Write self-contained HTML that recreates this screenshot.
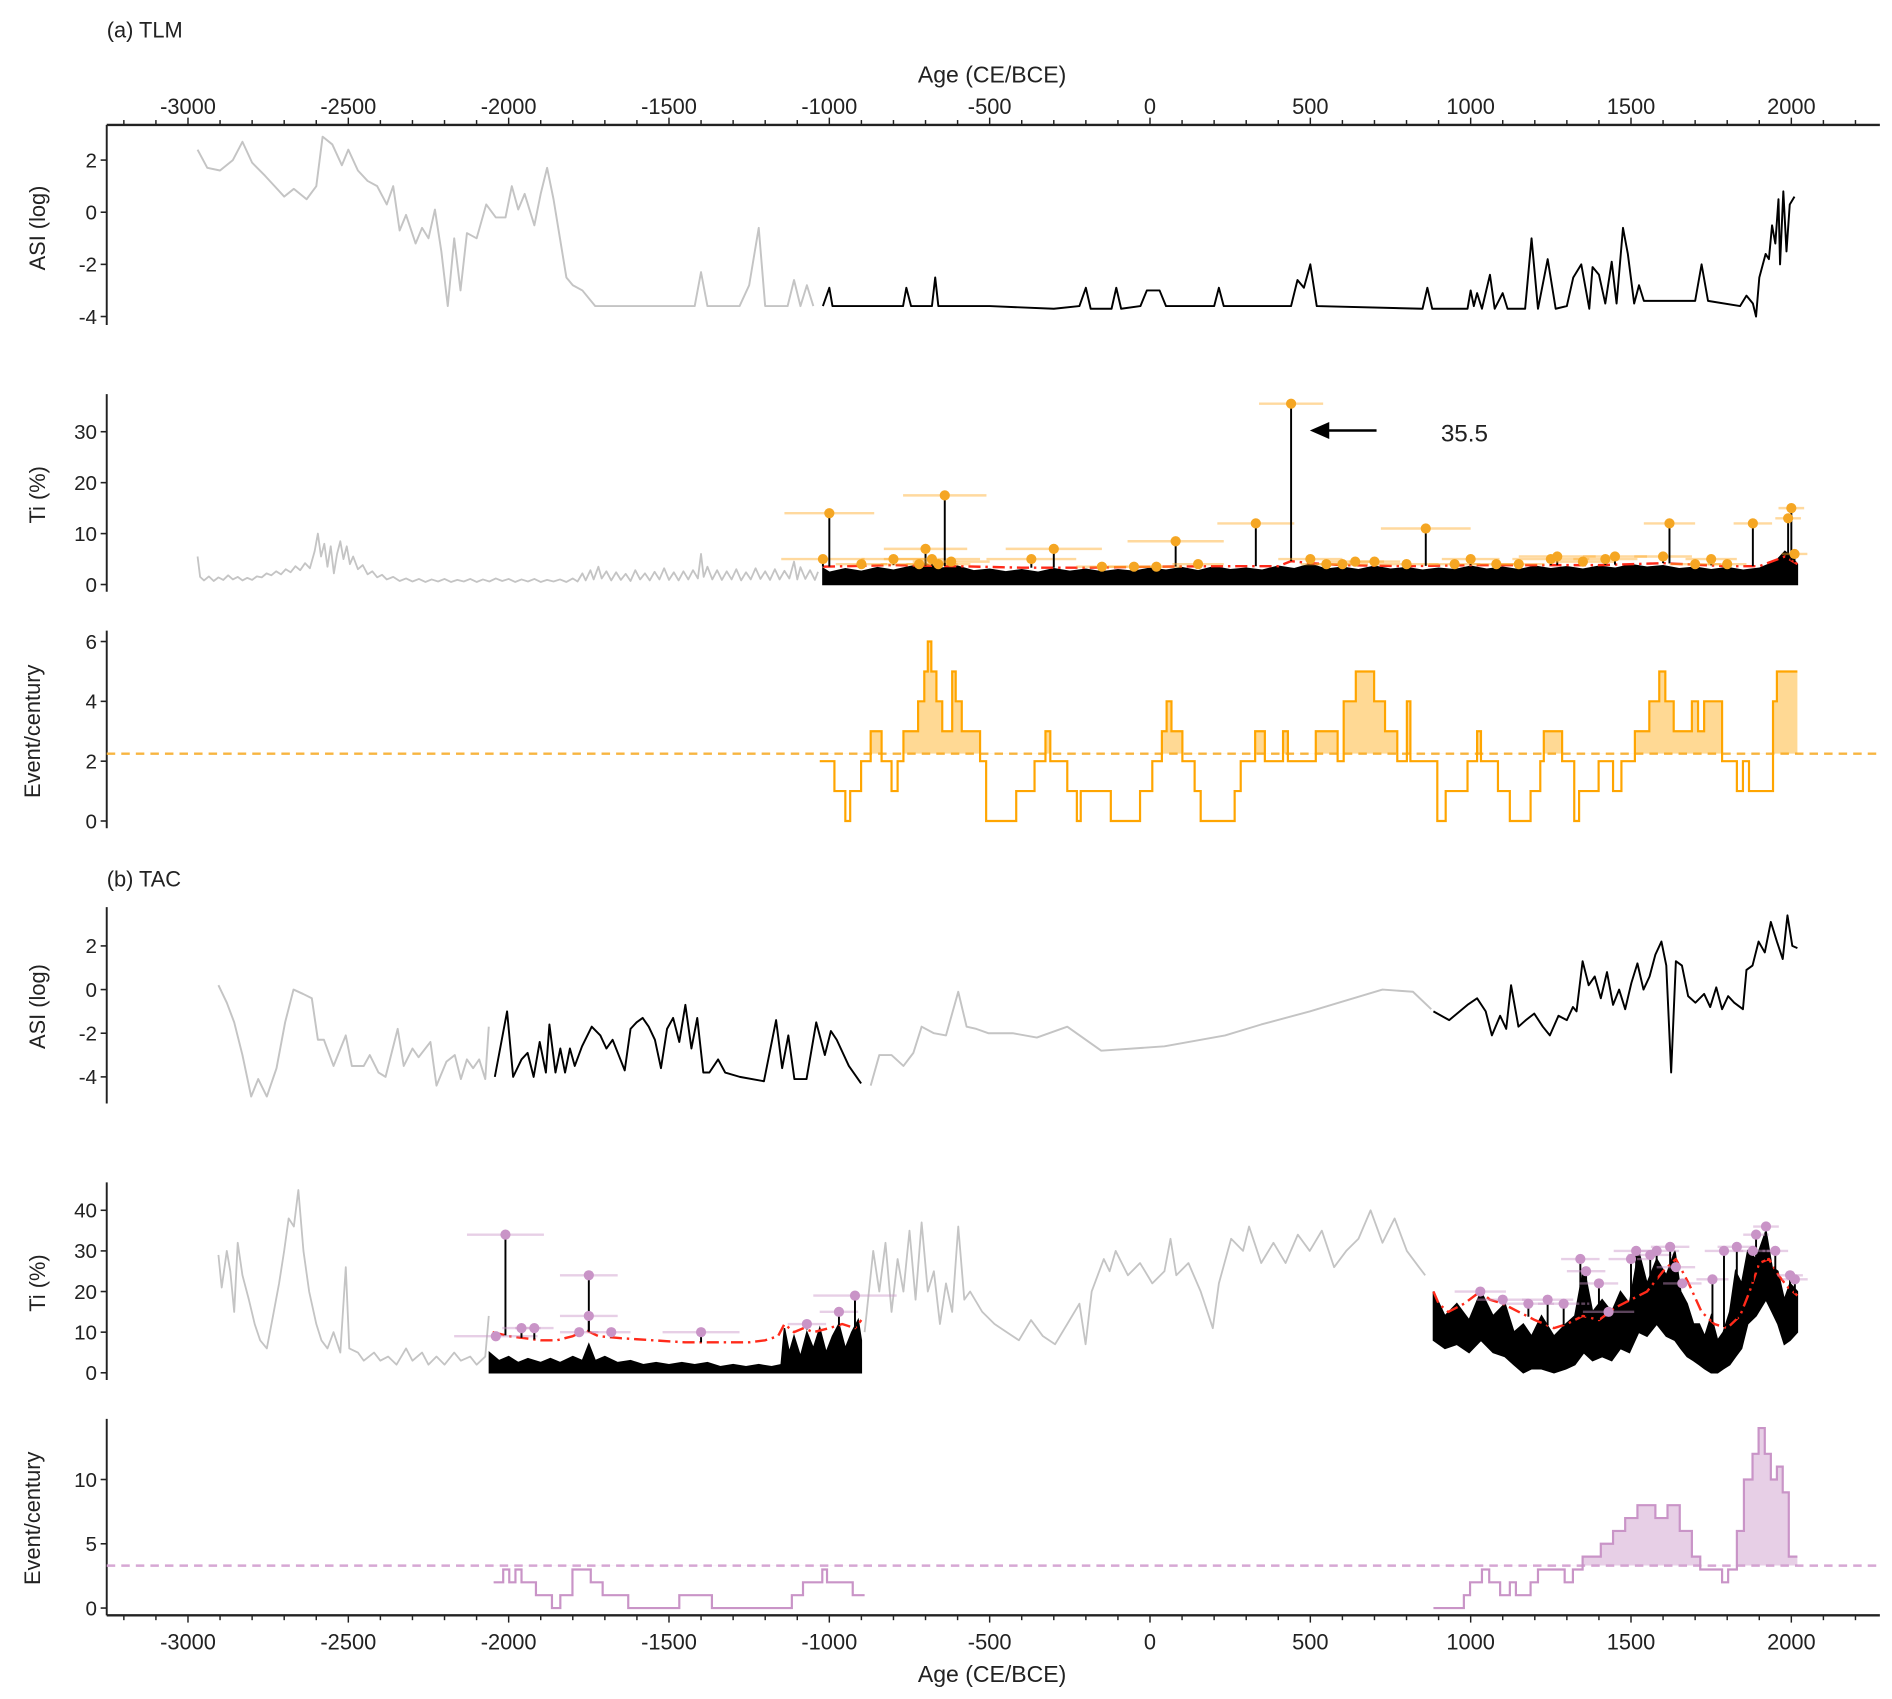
<!DOCTYPE html>
<html><head><meta charset="utf-8"><style>
html,body{margin:0;padding:0;background:#fff;}
svg{display:block;font-family:"Liberation Sans",Arial,sans-serif;}
</style></head>
<body>
<svg id="chart" width="1892" height="1699" viewBox="0 0 1560 1401" preserveAspectRatio="none" xmlns="http://www.w3.org/2000/svg">
<rect x="0" y="0" width="1560" height="1401" fill="#fff"/>
<text x="88" y="31" font-size="18" fill="#222">(a) TLM</text>
<text x="88" y="731" font-size="18" fill="#222">(b) TAC</text>
<text x="818" y="68" font-size="19" fill="#222" text-anchor="middle">Age (CE/BCE)</text>
<text x="818" y="1387" font-size="19" fill="#222" text-anchor="middle">Age (CE/BCE)</text>
<text transform="translate(37,188) rotate(-90)" font-size="18" fill="#222" text-anchor="middle">ASI (log)</text>
<text transform="translate(37,408) rotate(-90)" font-size="18" fill="#222" text-anchor="middle">Ti (%)</text>
<text transform="translate(33,603) rotate(-90)" font-size="18" fill="#222" text-anchor="middle">Event/century</text>
<text transform="translate(37,830) rotate(-90)" font-size="18" fill="#222" text-anchor="middle">ASI (log)</text>
<text transform="translate(37,1058) rotate(-90)" font-size="18" fill="#222" text-anchor="middle">Ti (%)</text>
<text transform="translate(33,1252) rotate(-90)" font-size="18" fill="#222" text-anchor="middle">Event/century</text>
<g id="plot"></g>
<text x="1188" y="364" font-size="20" fill="#222">35.5</text>
</svg>
<script>
// ---------- DATA ----------
const xTicks = [-3000,-2500,-2000,-1500,-1000,-500,0,500,1000,1500,2000];
const xTickLabels = ["-3000","-2500","-2000","-1500","-1000","-500","0","500","1000","1500","2000"];
const asiTicks = [2,0,-2,-4];
const tiTlmTicks = [0,10,20,30];
const evTlmTicks = [0,2,4,6];
const tiTacTicks = [0,10,20,30,40];
const evTacTicks = [0,5,10];

const asiTlmGray = [[-2970,2.4],[-2940,1.7],[-2900,1.6],[-2860,2.0],[-2830,2.7],[-2800,1.9],[-2760,1.4],[-2730,1.0],[-2700,0.6],[-2670,0.9],[-2630,0.5],[-2600,1.0],[-2580,2.9],[-2550,2.6],[-2520,1.8],[-2500,2.4],[-2470,1.6],[-2440,1.2],[-2410,1.0],[-2380,0.3],[-2360,1.0],[-2340,-0.7],[-2320,-0.1],[-2290,-1.2],[-2270,-0.6],[-2250,-1.0],[-2230,0.1],[-2210,-1.5],[-2190,-3.6],[-2170,-1.0],[-2150,-3.0],[-2130,-0.8],[-2100,-1.0],[-2070,0.3],[-2040,-0.2],[-2010,-0.2],[-1990,1.0],[-1970,0.1],[-1950,0.7],[-1920,-0.5],[-1900,0.7],[-1880,1.7],[-1860,0.5],[-1840,-1.0],[-1820,-2.5],[-1800,-2.8],[-1770,-3.0],[-1730,-3.6],[-1500,-3.6],[-1420,-3.6],[-1400,-2.3],[-1380,-3.6],[-1280,-3.6],[-1250,-2.8],[-1220,-0.6],[-1200,-3.6],[-1130,-3.6],[-1110,-2.6],[-1090,-3.6],[-1070,-2.8],[-1050,-3.6]];
const asiTlmBlack = [[-1020,-3.6],[-1000,-2.9],[-990,-3.6],[-900,-3.6],[-800,-3.6],[-770,-3.6],[-760,-2.9],[-745,-3.6],[-680,-3.6],[-670,-2.5],[-660,-3.6],[-500,-3.6],[-300,-3.7],[-220,-3.6],[-200,-2.9],[-185,-3.7],[-120,-3.7],[-105,-2.9],[-90,-3.7],[-30,-3.6],[-10,-3.0],[30,-3.0],[50,-3.6],[200,-3.6],[215,-2.9],[230,-3.6],[440,-3.6],[460,-2.6],[480,-2.9],[500,-2.0],[520,-3.6],[850,-3.7],[865,-2.9],[880,-3.7],[990,-3.7],[1000,-3.0],[1010,-3.6],[1020,-3.1],[1035,-3.7],[1060,-2.4],[1075,-3.7],[1100,-3.1],[1115,-3.7],[1170,-3.7],[1190,-1.0],[1210,-3.7],[1240,-1.8],[1265,-3.7],[1300,-3.6],[1320,-2.5],[1345,-2.0],[1370,-3.7],[1380,-2.1],[1400,-2.4],[1420,-3.5],[1440,-1.9],[1455,-3.5],[1475,-0.6],[1490,-1.6],[1510,-3.5],[1525,-2.8],[1540,-3.4],[1700,-3.4],[1720,-2.0],[1740,-3.4],[1840,-3.6],[1860,-3.2],[1880,-3.5],[1890,-4.0],[1900,-2.5],[1920,-1.6],[1930,-1.8],[1940,-0.5],[1950,-1.2],[1960,0.5],[1965,-2.0],[1975,0.8],[1985,-1.5],[1995,0.3],[2010,0.6]];

const tiTlmGray = [[-2970,5.5],[-2962,1.5],[-2950,0.8],[-2935,1.6],[-2920,0.7],[-2905,1.4],[-2890,0.9],[-2875,1.8],[-2860,1.0],[-2845,1.5],[-2830,0.8],[-2815,1.3],[-2800,0.9],[-2785,1.6],[-2770,1.4],[-2755,2.2],[-2740,1.8],[-2725,2.6],[-2710,2.0],[-2695,3.0],[-2680,2.4],[-2665,3.6],[-2650,2.8],[-2635,4.2],[-2620,3.2],[-2605,6.5],[-2595,10],[-2585,5.5],[-2575,8],[-2565,3.5],[-2555,7.5],[-2545,2.2],[-2535,6],[-2525,8.5],[-2515,5],[-2505,7.5],[-2495,4],[-2485,5.5],[-2470,3],[-2455,3.8],[-2440,2],[-2425,2.6],[-2410,1.4],[-2395,1.9],[-2380,1],[-2360,1.5],[-2340,0.7],[-2320,1.2],[-2300,0.6],[-2280,1.1],[-2260,0.5],[-2240,1.0],[-2220,0.6],[-2200,1.1],[-2180,0.5],[-2160,0.9],[-2140,0.6],[-2120,1.1],[-2100,0.5],[-2080,1.0],[-2060,0.6],[-2040,1.2],[-2020,0.7],[-2000,1.1],[-1980,0.5],[-1960,1.0],[-1940,0.6],[-1920,1.1],[-1900,0.5],[-1880,0.9],[-1860,0.6],[-1840,1.0],[-1820,0.5],[-1800,1.2],[-1785,0.6],[-1770,2.2],[-1760,0.8],[-1745,2.8],[-1735,1.0],[-1720,3.5],[-1710,1.2],[-1695,2.6],[-1680,0.8],[-1665,2.4],[-1650,0.9],[-1635,2.1],[-1620,0.7],[-1605,2.8],[-1590,1.0],[-1575,2.2],[-1560,0.8],[-1545,2.5],[-1530,1.0],[-1515,3.2],[-1500,0.9],[-1485,2.4],[-1470,0.8],[-1455,2.6],[-1440,1.0],[-1425,2.8],[-1410,1.2],[-1400,6],[-1392,1.5],[-1380,3.5],[-1365,1.0],[-1350,2.8],[-1335,0.9],[-1320,2.6],[-1305,1.0],[-1290,3.0],[-1275,0.8],[-1260,2.4],[-1245,1.0],[-1230,3.2],[-1215,1.1],[-1200,2.6],[-1185,0.9],[-1170,3.0],[-1155,1.0],[-1140,2.7],[-1125,1.2],[-1110,4.5],[-1100,1.0],[-1090,3.4],[-1075,1.1],[-1060,2.8],[-1045,0.9],[-1035,2.5]];
const tiTlmTop = [[-1020,3.2],[-1000,2.4],[-950,3.1],[-900,2.6],[-850,3.3],[-800,2.8],[-750,3.5],[-700,4.0],[-650,3.2],[-600,3.6],[-550,2.7],[-500,3.0],[-450,2.5],[-400,2.9],[-350,2.4],[-300,3.1],[-250,2.6],[-200,3.0],[-150,2.5],[-100,2.9],[-50,2.6],[0,3.2],[50,2.8],[100,3.3],[150,2.7],[200,3.5],[250,2.9],[300,3.2],[350,2.8],[400,3.6],[450,3.1],[500,4.0],[550,3.0],[600,3.4],[650,2.9],[700,3.6],[750,3.0],[800,3.3],[850,2.8],[900,3.2],[950,2.9],[1000,3.6],[1050,3.0],[1100,3.4],[1150,2.9],[1200,3.6],[1250,3.1],[1300,3.5],[1350,3.0],[1400,3.6],[1450,3.2],[1500,3.9],[1550,3.4],[1600,3.7],[1650,3.1],[1700,3.4],[1750,2.9],[1800,3.3],[1850,2.8],[1900,3.2],[1950,4.5],[1980,6.5],[2000,5.5],[2019,4.0]];
const tiTlmThr = [[-1020,3.5],[-800,3.8],[-600,3.6],[-400,3.3],[-200,3.3],[0,3.5],[200,3.6],[400,3.6],[440,4.6],[500,4.2],[600,3.8],[800,3.6],[1000,3.8],[1200,3.8],[1400,3.8],[1600,4.2],[1800,3.6],[1900,3.6],[1980,5.5],[2019,4]];
const evTlmYears = [-1020,-1000,-900,-800,-720,-700,-680,-660,-640,-620,-370,-300,-150,-50,20,80,150,330,440,500,550,600,640,700,800,860,950,1000,1080,1150,1250,1270,1350,1420,1450,1600,1620,1700,1750,1800,1880,1990,2000,2010];
const evTlmVals = [5,14,4,5,4,7,5,4,17.5,4.5,5,7,3.5,3.5,3.5,8.5,4,12,35.5,5,4,4,4.5,4.5,4,11,4,5,4,4,5,5.5,4.5,5,5.5,5.5,12,4,5,4,12,13,15,6];
const evTlmErr = [130,140,80,100,120,130,150,100,130,120,140,150,80,80,80,150,80,120,100,100,80,80,90,80,100,140,80,90,80,80,120,120,100,100,100,90,80,80,80,60,60,40,40,40];

const freqTlmYears = [-1030,-984,-950,-935,-901,-871,-837,-806,-787,-769,-723,-704,-693,-682,-666,-648,-617,-606,-587,-530,-511,-417,-360,-326,-311,-258,-228,-216,-122,-31,7,37,52,67,101,139,158,264,283,328,358,415,430,517,585,604,642,699,733,771,801,812,896,922,990,1020,1032,1085,1122,1187,1217,1228,1285,1323,1338,1399,1444,1470,1512,1557,1588,1607,1633,1690,1709,1728,1784,1830,1849,1868,1943,1955];
const freqTlmVals = [2,1,0,1,2,3,2,1,2,3,4,5,6,5,4,3,5,4,3,2,0,1,2,3,2,1,0,1,0,1,2,3,4,3,2,1,0,1,2,3,2,3,2,3,2,4,5,4,3,2,4,2,0,1,2,3,2,1,0,1,2,3,2,0,1,2,1,2,3,4,5,4,3,4,3,4,2,1,2,1,4,5];
const freqTlmEnd = 2019;
const freqTlmThreshold = 2.25;

const asiTacGrayA = [[-2905,0.2],[-2879,-0.6],[-2856,-1.5],[-2830,-3],[-2803,-4.9],[-2781,-4.1],[-2754,-4.9],[-2724,-3.6],[-2697,-1.5],[-2671,0],[-2641,-0.2],[-2614,-0.4],[-2595,-2.3],[-2576,-2.3],[-2546,-3.5],[-2508,-2.1],[-2489,-3.5],[-2452,-3.5],[-2433,-3],[-2406,-3.8],[-2384,-4],[-2346,-1.8],[-2327,-3.5],[-2300,-2.7],[-2281,-3.1],[-2244,-2.4],[-2225,-4.4],[-2194,-3.3],[-2168,-3],[-2149,-4.1],[-2130,-3.2],[-2111,-3.6],[-2092,-3.2],[-2073,-4.1],[-2062,-1.7]];
const asiTacBlackA = [[-2043,-4],[-2005,-1],[-1986,-4],[-1960,-3.2],[-1941,-2.9],[-1922,-4],[-1903,-2.4],[-1884,-3.8],[-1873,-1.6],[-1854,-3.8],[-1839,-2.7],[-1824,-3.8],[-1809,-2.7],[-1794,-3.5],[-1771,-2.6],[-1741,-1.7],[-1714,-2.1],[-1695,-2.7],[-1676,-2.3],[-1657,-3],[-1638,-3.7],[-1620,-1.8],[-1601,-1.5],[-1582,-1.3],[-1563,-1.7],[-1544,-2.3],[-1525,-3.6],[-1506,-1.8],[-1487,-1.3],[-1468,-2.4],[-1449,-0.7],[-1430,-2.7],[-1412,-1.3],[-1393,-3.8],[-1374,-3.8],[-1347,-3.2],[-1325,-3.8],[-1279,-4],[-1204,-4.2],[-1166,-1.4],[-1147,-3.6],[-1128,-2.1],[-1109,-4.1],[-1071,-4.1],[-1041,-1.5],[-1014,-3],[-995,-1.9],[-977,-2.3],[-939,-3.5],[-901,-4.3]];
const asiTacGrayB = [[-871,-4.4],[-844,-3],[-806,-3],[-769,-3.5],[-738,-2.9],[-712,-1.7],[-674,-2],[-636,-2.1],[-598,-0.1],[-572,-1.7],[-542,-1.8],[-504,-2],[-428,-2],[-353,-2.2],[-258,-1.7],[-152,-2.8],[45,-2.6],[234,-2.1],[347,-1.6],[498,-1],[612,-0.5],[725,0],[820,-0.1],[877,-0.9]];
const asiTacBlackB = [[884,-1],[933,-1.4],[990,-0.7],[1020,-0.4],[1047,-1],[1066,-2.1],[1092,-1.2],[1111,-1.8],[1126,0.2],[1149,-1.7],[1172,-1.4],[1198,-1.1],[1225,-1.7],[1247,-2.1],[1274,-1.2],[1300,-1.4],[1319,-0.8],[1330,-1],[1349,1.3],[1368,0.2],[1387,0.6],[1406,-0.4],[1425,0.8],[1444,-0.7],[1463,0],[1482,-0.9],[1501,0.3],[1520,1.2],[1539,0],[1558,0.6],[1576,1.6],[1595,2.2],[1610,1.1],[1625,-3.8],[1640,1.3],[1659,1.1],[1678,-0.3],[1701,-0.6],[1728,-0.2],[1747,-0.8],[1766,0.1],[1784,-0.9],[1803,-0.3],[1822,-0.6],[1849,-0.9],[1860,0.9],[1879,1.1],[1898,2.2],[1917,1.7],[1936,3.1],[1955,2.2],[1973,1.4],[1988,3.4],[2003,2],[2019,1.9]];

const tiTacGrayA = [[-2905,29],[-2895,21],[-2879,30],[-2868,25],[-2856,15],[-2845,32],[-2830,24],[-2810,18],[-2792,12],[-2775,8],[-2754,6],[-2735,14],[-2716,22],[-2700,30],[-2686,38],[-2670,36],[-2656,45],[-2640,30],[-2622,20],[-2600,12],[-2584,8],[-2565,6],[-2546,10],[-2525,5],[-2508,26],[-2497,6],[-2470,5],[-2452,3],[-2420,5],[-2400,3],[-2376,4],[-2350,2],[-2320,6],[-2300,3],[-2270,5],[-2250,2],[-2225,4],[-2200,2],[-2170,5],[-2149,3],[-2120,4],[-2100,2],[-2073,4],[-2062,14]];
const tiTacGrayB = [[-890,10],[-863,30],[-844,20],[-825,32],[-806,15],[-787,28],[-769,20],[-750,35],[-731,18],[-712,37],[-693,20],[-674,25],[-655,12],[-636,22],[-617,15],[-598,36],[-579,18],[-561,20],[-523,15],[-485,12],[-447,10],[-409,8],[-371,13],[-334,9],[-296,7],[-258,12],[-220,17],[-201,7],[-182,20],[-144,28],[-126,25],[-107,30],[-69,24],[-31,27],[7,22],[45,25],[64,33],[82,24],[120,27],[158,20],[196,11],[215,22],[253,33],[290,30],[309,36],[347,27],[385,32],[423,27],[461,34],[498,30],[536,35],[574,26],[612,30],[650,33],[688,40],[725,32],[763,38],[801,30],[839,26],[858,24]];
const tiTacTopA = [[-2060,5],[-2030,3],[-2000,4],[-1970,2.5],[-1940,3.5],[-1900,2.5],[-1870,3.5],[-1840,2.5],[-1800,4],[-1770,3],[-1750,7],[-1730,3],[-1700,4],[-1660,2.5],[-1620,3],[-1580,2],[-1540,2.5],[-1500,2],[-1460,2.5],[-1420,2],[-1380,2.5],[-1340,1.5],[-1300,2],[-1260,1.5],[-1220,2],[-1180,1.5],[-1150,2],[-1140,11],[-1125,5],[-1110,9],[-1090,4],[-1070,10],[-1050,6],[-1030,11],[-1010,5],[-990,9],[-970,12],[-950,6],[-930,10],[-910,13],[-900,8]];
const tiTacTopB = [[884,20],[920,14],[957,17],[995,13],[1032,20],[1070,14],[1107,17],[1135,10],[1164,12],[1190,9],[1221,14],[1260,9],[1297,12],[1325,14],[1353,26],[1380,15],[1410,18],[1440,15],[1467,20],[1495,17],[1524,30],[1550,22],[1580,28],[1610,24],[1637,30],[1655,20],[1675,17],[1695,12],[1713,12],[1730,9],[1750,14],[1770,8],[1788,10],[1808,15],[1826,25],[1845,22],[1864,30],[1890,28],[1921,35],[1940,26],[1958,25],[1978,18],[1996,22],[2019,20]];
const tiTacLowB = [[884,8],[920,6],[957,7],[995,5],[1032,8],[1070,5],[1107,4],[1135,2],[1164,0],[1190,1],[1221,1],[1260,0],[1297,1],[1325,2],[1353,5],[1380,3],[1410,4],[1440,3],[1467,6],[1495,5],[1524,10],[1550,9],[1580,12],[1610,9],[1637,8],[1655,6],[1675,4],[1695,3],[1713,2],[1730,1],[1750,0],[1770,0],[1788,1],[1808,2],[1826,4],[1845,6],[1864,12],[1890,14],[1921,18],[1940,15],[1958,12],[1978,7],[1996,8],[2019,10]];
const tiTacThrA = [[-2050,10],[-2000,9],[-1950,8.5],[-1900,8],[-1850,8],[-1800,9],[-1760,10.5],[-1720,9],[-1650,8.5],[-1550,8],[-1450,7.5],[-1350,7.5],[-1250,7.5],[-1200,8],[-1160,9],[-1140,12],[-1110,10],[-1080,11],[-1050,10],[-1000,11],[-960,12],[-920,11],[-900,13]];
const tiTacThrB = [[884,20],[900,17],[930,15],[980,17],[1030,20],[1060,18],[1100,17],[1150,15],[1200,13],[1260,11],[1300,12],[1350,14],[1400,13],[1450,16],[1500,18],[1550,20],[1600,25],[1640,28],[1680,22],[1720,15],[1760,12],[1800,11],[1840,14],[1870,20],[1900,27],[1930,28],[1960,24],[1990,21],[2019,19]];
const evTacYears = [-2040,-2010,-1960,-1920,-1780,-1750,-1750,-1680,-1400,-1070,-970,-920,1030,1100,1180,1240,1290,1342,1360,1400,1430,1500,1516,1560,1580,1622,1640,1660,1754,1790,1830,1880,1890,1921,1950,1996,2011];
const evTacVals = [9,34,11,11,10,24,14,10,10,12,15,19,20,18,17,18,17,28,25,22,15,28,30,29,30,31,26,22,23,30,31,30,34,36,30,24,23];
const evTacErr = [130,120,60,60,60,90,90,60,120,60,60,130,80,80,80,80,80,60,60,60,80,70,70,70,70,60,60,60,50,60,60,60,40,40,40,40,40];

const freqTacYearsA = [-2047,-2017,-1998,-1979,-1960,-1915,-1865,-1839,-1801,-1744,-1707,-1627,-1468,-1366,-1117,-1082,-1022,-1007,-927];
const freqTacValsA = [2,3,2,3,2,1,0,1,3,2,1,0,1,0,1,2,3,2,1];
const freqTacEndA = -890;
const freqTacYearsB = [884,979,998,1035,1058,1092,1122,1141,1187,1210,1293,1319,1349,1406,1444,1482,1520,1576,1614,1652,1690,1716,1784,1803,1830,1852,1879,1898,1917,1936,1955,1973,1992];
const freqTacValsB = [0,1,2,3,2,1,2,1,2,3,2,3,4,5,6,7,8,7,8,6,4,3,2,3,6,10,12,14,12,10,11,9,4];
const freqTacEndB = 2019;
const freqTacThreshold = 3.3;

// ---------- SCALES ----------
const NS = "http://www.w3.org/2000/svg";
const plot = document.getElementById('plot');
const X0 = 88, X1 = 1550;
function xs(y){ return 155 + (y + 3000) * (1322/5000); }
function lin(v0,p0,v1,p1){ return v => p0 + (v - v0) * (p1 - p0) / (v1 - v0); }
const yAsiTlm = lin(0,175,-4,261);
const yTiTlm = lin(0,482,30,356);
const yEvTlm = lin(0,677,6,529);
const yAsiTac = lin(0,816,-4,888);
const yTiTac = lin(0,1132,40,998);
const yEvTac = lin(0,1326,10,1220);

function el(tag, attrs, parent){
  const e = document.createElementNS(NS, tag);
  for (const k in attrs) e.setAttribute(k, attrs[k]);
  (parent || plot).appendChild(e);
  return e;
}
function interp(arr, yr){
  if (yr <= arr[0][0]) return arr[0][1];
  for (let i=1;i<arr.length;i++){ if (yr <= arr[i][0]){ const a=arr[i-1], b=arr[i]; return a[1]+(b[1]-a[1])*(yr-a[0])/(b[0]-a[0]); } }
  return arr[arr.length-1][1];
}
function line(data, ys, color, w, name, dash){
  const p = el('polyline', {points: data.map(d => xs(d[0]).toFixed(1)+','+ys(d[1]).toFixed(1)).join(' '), fill:'none', stroke:color, 'stroke-width':w, 'stroke-linejoin':'round'});
  if (dash) p.setAttribute('stroke-dasharray', dash);
  
  
  return p;
}
function band(top, low, ys, color, name){
  const pts = top.map(d => xs(d[0]).toFixed(1)+','+ys(d[1]).toFixed(1));
  const lowPts = low ? low.slice().reverse().map(d => xs(d[0]).toFixed(1)+','+ys(d[1]).toFixed(1)) : [xs(top[top.length-1][0]).toFixed(1)+','+ys(0).toFixed(1), xs(top[0][0]).toFixed(1)+','+ys(0).toFixed(1)];
  const p = el('polygon', {points: pts.concat(lowPts).join(' '), fill:color, stroke:color, 'stroke-width':1.2, 'stroke-linejoin':'miter'});
  
  
}
function yAxis(ys, ticks, top, bottom, name){
  const g = el('g', {});
  
  
  el('line', {x1:X0, x2:X0, y1:top, y2:bottom, stroke:'#222', 'stroke-width':1.6}, g);
  ticks.forEach(t => {
    el('line', {x1:X0-5, x2:X0, y1:ys(t), y2:ys(t), stroke:'#222', 'stroke-width':1.3}, g);
    const tx = el('text', {x:X0-8, y:ys(t)+6, 'font-size':17, fill:'#222', 'text-anchor':'end'}, g);
    tx.textContent = String(t);
  });
}
function xAxis(yLine, dir, labelY, name){
  const g = el('g', {});
  
  
  el('line', {x1:X0, x2:X1, y1:yLine, y2:yLine, stroke:'#222', 'stroke-width':2}, g);
  for (let yr=-3200; yr<=2200; yr+=100){
    const x = xs(yr); if (x < X0 || x > X1) continue;
    const major = yr % 500 === 0;
    el('line', {x1:x, x2:x, y1:yLine, y2:yLine + dir*(major?6:4), stroke:'#222', 'stroke-width':1.2}, g);
  }
  xTicks.forEach((t,i) => {
    const tx = el('text', {x:xs(t), y:labelY, 'font-size':18, fill:'#222', 'text-anchor':'middle'}, g);
    tx.textContent = xTickLabels[i];
  });
}
function steps(years, vals, end, ys){
  let d = 'M'+xs(years[0]).toFixed(1)+' '+ys(vals[0]).toFixed(1);
  for (let i=1;i<years.length;i++){ d += ' H'+xs(years[i]).toFixed(1)+' V'+ys(vals[i]).toFixed(1); }
  d += ' H'+xs(end).toFixed(1);
  return d;
}
function freq(years, vals, end, ys, thr, color, fillColor, name, clipId){
  const cp = el('clipPath', {id:clipId});
  el('rect', {x:0, y:0, width:1560, height:ys(thr)}, cp);
  const d = steps(years, vals, end, ys);
  const f = el('path', {d: d + ' V'+ys(thr).toFixed(1)+' H'+xs(years[0]).toFixed(1)+' Z', fill:fillColor, stroke:'none', 'clip-path':'url(#'+clipId+')'});
  
  
  const p = el('path', {d:d, fill:'none', stroke:color, 'stroke-width':1.8});
  
  
}
function events(years, vals, errs, ys, thrArrs, color, errColor, name){
  years.forEach((yr,i) => {
    let base = vals[i];
    thrArrs.forEach(a => { if (yr >= a[0][0]-30 && yr <= a[a.length-1][0]+30) base = Math.min(base, interp(a, yr)); });
    const s = el('line', {x1:xs(yr), x2:xs(yr), y1:ys(base), y2:ys(vals[i]), stroke:'#000', 'stroke-width':1.6});
    
    
    const e = el('line', {x1:xs(yr-errs[i]), x2:xs(yr+errs[i]), y1:ys(vals[i]), y2:ys(vals[i]), stroke:errColor, 'stroke-width':2});
    
    
  });
  years.forEach((yr,i) => {
    const c = el('circle', {cx:xs(yr), cy:ys(vals[i]), r:4.2, fill:color});
    
    
  });
}

// ---------- AXES ----------
xAxis(103, -1, 94, 'top-x-axis');
xAxis(1332, 1, 1360, 'bottom-x-axis');
yAxis(yAsiTlm, asiTicks, 103, 268, 'y-axis-asi-tlm');
yAxis(yTiTlm, tiTlmTicks, 325, 488, 'y-axis-ti-tlm');
yAxis(yEvTlm, evTlmTicks, 520, 683, 'y-axis-event-tlm');
yAxis(yAsiTac, asiTicks, 748, 910, 'y-axis-asi-tac');
yAxis(yTiTac, tiTacTicks, 975, 1138, 'y-axis-ti-tac');
yAxis(yEvTac, evTacTicks, 1170, 1332, 'y-axis-event-tac');

// ---------- TLM ----------
line(asiTlmGray, yAsiTlm, '#c4c4c4', 1.6, 'asi-tlm-unused-line');
line(asiTlmBlack, yAsiTlm, '#000', 1.6, 'asi-tlm-line');
line(tiTlmGray, yTiTlm, '#c4c4c4', 1.5, 'ti-tlm-unused-line');
band(tiTlmTop, null, yTiTlm, '#000', 'ti-tlm-band');
line(tiTlmThr, yTiTlm, '#ff2a1a', 2, 'ti-tlm-threshold', '10,4,2,4');
events(evTlmYears, evTlmVals, evTlmErr, yTiTlm, [tiTlmThr], '#f5a623', 'rgba(255,170,40,0.45)', 'tlm-event');
const thrA = el('line', {x1:X0, x2:X1, y1:yEvTlm(freqTlmThreshold), y2:yEvTlm(freqTlmThreshold), stroke:'#f8b540', 'stroke-width':2, 'stroke-dasharray':'7,5'});


freq(freqTlmYears, freqTlmVals, freqTlmEnd, yEvTlm, freqTlmThreshold, '#ffa500', 'rgba(255,165,0,0.42)', 'tlm-frequency', 'clipTlm');

// arrow annotation
const arr = el('line', {x1:1135, x2:1092, y1:355, y2:355, stroke:'#000', 'stroke-width':2});


const head = el('polygon', {points:'1080,355 1096,348 1096,362', fill:'#000'});



// ---------- TAC ----------
line(asiTacGrayA, yAsiTac, '#c4c4c4', 1.6, 'asi-tac-unused-line-early');
line(asiTacBlackA, yAsiTac, '#000', 1.6, 'asi-tac-line-early');
line(asiTacGrayB, yAsiTac, '#c4c4c4', 1.6, 'asi-tac-unused-line-middle');
line(asiTacBlackB, yAsiTac, '#000', 1.6, 'asi-tac-line-late');
line(tiTacGrayA, yTiTac, '#c4c4c4', 1.5, 'ti-tac-unused-line-early');
line(tiTacGrayB, yTiTac, '#c4c4c4', 1.5, 'ti-tac-unused-line-middle');
band(tiTacTopA, null, yTiTac, '#000', 'ti-tac-band-early');
band(tiTacTopB, tiTacLowB, yTiTac, '#000', 'ti-tac-band-late');
line(tiTacThrA, yTiTac, '#ff2a1a', 2, 'ti-tac-threshold-early', '10,4,2,4');
line(tiTacThrB, yTiTac, '#ff2a1a', 2, 'ti-tac-threshold-late', '10,4,2,4');
events(evTacYears, evTacVals, evTacErr, yTiTac, [tiTacThrA, tiTacThrB], '#c994c7', 'rgba(201,148,199,0.45)', 'tac-event');
const thrB = el('line', {x1:X0, x2:X1, y1:yEvTac(freqTacThreshold), y2:yEvTac(freqTacThreshold), stroke:'#d6a8d4', 'stroke-width':2, 'stroke-dasharray':'7,5'});


freq(freqTacYearsA, freqTacValsA, freqTacEndA, yEvTac, freqTacThreshold, '#c994c7', 'rgba(201,148,199,0.45)', 'tac-frequency-early', 'clipTacA');
freq(freqTacYearsB, freqTacValsB, freqTacEndB, yEvTac, freqTacThreshold, '#c994c7', 'rgba(201,148,199,0.45)', 'tac-frequency-late', 'clipTacB');
</script>
</body></html>
